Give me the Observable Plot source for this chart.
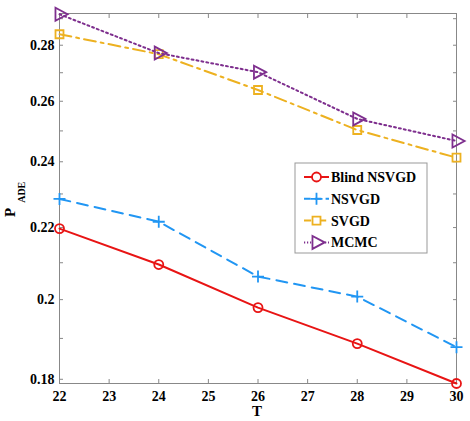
<!DOCTYPE html>
<html><head><meta charset="utf-8">
<script src="https://cdn.jsdelivr.net/npm/d3@7"></script>
<script src="https://cdn.jsdelivr.net/npm/@observablehq/plot@0.6"></script>
<style>body{margin:0;background:#fff;}</style>
</head><body><div id="chart"></div>
<script>
const T = [22, 24, 26, 28, 30];
const seriesNames = ["Blind NSVGD", "NSVGD", "SVGD", "MCMC"];
const blindNSVGD = [0.2197, 0.2095, 0.1979, 0.1887, 0.1790];
const nsvgd = [0.2285, 0.2217, 0.2062, 0.2008, 0.1878];
const svgd = [0.2841, 0.2767, 0.2639, 0.2503, 0.2413];
const mcmc = [0.2917, 0.2771, 0.2702, 0.2540, 0.2467];
const xTicks = [22, 23, 24, 25, 26, 27, 28, 29, 30];
const yTicks = [0.18, 0.2, 0.22, 0.24, 0.26, 0.28];
const yMinorTicks = [0.18, 0.19, 0.2, 0.21, 0.22, 0.23, 0.24, 0.25, 0.26, 0.27, 0.28, 0.29];

const colors = ["#e81414", "#2196f3", "#edb120", "#7e2f8e"];
const dashes = [null, "11,7", "12,5,3,5", "2,3"];
const triRight = {draw(ctx, size) { const r = Math.sqrt(size / Math.PI); ctx.moveTo(1.25 * r, 0); ctx.lineTo(-0.62 * r, -r); ctx.lineTo(-0.62 * r, r); ctx.closePath(); }};
const plusSym = {draw(ctx, size) { const r = Math.sqrt(size / Math.PI); ctx.moveTo(-r, 0); ctx.lineTo(r, 0); ctx.moveTo(0, -r); ctx.lineTo(0, r); }};
const symbols = ["circle", plusSym, "square", triRight];
const radii = [4.5, 6, 4.5, 6.5];
const seriesValues = [blindNSVGD, nsvgd, svgd, mcmc];

const gray = "#888";
const font = "Liberation Serif, Times New Roman, serif";

const marks = [
  Plot.frame({stroke: gray}),
  Plot.axisX(xTicks, {anchor: "bottom", tickSize: -4, stroke: gray, fill: "none", label: null}),
  Plot.axisX(xTicks, {anchor: "top", tickSize: -4, stroke: gray, fill: "none", label: null}),
  Plot.axisX(xTicks, {anchor: "bottom", tickSize: 0, tickPadding: 8, fill: "black", tickFormat: d => String(d), label: null}),
  Plot.axisY(yMinorTicks, {anchor: "left", tickSize: -4, stroke: gray, fill: "none", label: null}),
  Plot.axisY(yMinorTicks, {anchor: "right", tickSize: -4, stroke: gray, fill: "none", label: null}),
  Plot.axisY(yTicks, {anchor: "left", tickSize: 0, tickPadding: 5, fill: "black", tickFormat: d => String(d), label: null})
];
seriesValues.forEach((vals, i) => {
  const rows = T.map((t, j) => ({T: t, v: vals[j]}));
  marks.push(Plot.line(rows, {x: "T", y: "v", stroke: colors[i], strokeWidth: 2, strokeDasharray: dashes[i]}));
  marks.push(Plot.dot(rows, {x: "T", y: "v", stroke: colors[i], strokeWidth: 1.8, fill: "none", r: radii[i], symbol: symbols[i]}));
});

const chart = Plot.plot({
  width: 470, height: 421,
  marginLeft: 59, marginRight: 14, marginTop: 13, marginBottom: 38,
  style: {fontFamily: font, fontSize: "14px", fontWeight: "bold", background: "#fff", color: "black"},
  x: {domain: [22, 30]},
  y: {type: "log", domain: [0.179, 0.292]},
  marks
});
document.getElementById("chart").appendChild(chart);

const svg = d3.select(chart);
const yl = svg.append("text").attr("transform", "translate(15,217) rotate(-90)").attr("text-anchor", "start")
  .attr("font-family", font).attr("font-weight", "bold").attr("fill", "black");
yl.append("tspan").attr("font-size", 15).text("P");
yl.append("tspan").attr("font-size", 10).attr("dx", 5).attr("dy", 10).text("ADE");
svg.append("text").attr("x", 257).attr("y", 416).attr("text-anchor", "middle")
  .attr("font-family", font).attr("font-weight", "bold").attr("font-size", 15).attr("fill", "black").text("T");

const lg = svg.append("g");
lg.append("rect").attr("x", 295).attr("y", 163).attr("width", 132).attr("height", 90)
  .attr("fill", "white").attr("stroke", "#999").attr("stroke-width", 1);
const d3sym = s => s === "circle" ? d3.symbolCircle : s === "square" ? d3.symbolSquare : s;
seriesNames.forEach((name, i) => {
  const y = 177 + i * 21.8;
  lg.append("line").attr("x1", 304).attr("x2", 329).attr("y1", y).attr("y2", y)
    .attr("stroke", colors[i]).attr("stroke-width", 2).attr("stroke-dasharray", dashes[i] ? dashes[i].split(",").map(d => d * 0.6).join(",") : null);
  lg.append("path").attr("transform", `translate(316.5,${y})`)
    .attr("d", d3.symbol().type(d3sym(symbols[i])).size(Math.PI * radii[i] * radii[i])())
    .attr("fill", "white").attr("stroke", colors[i]).attr("stroke-width", 1.8);
  lg.append("text").attr("x", 331).attr("y", y).attr("dy", "0.35em").attr("text-anchor", "start")
    .attr("font-family", font).attr("font-weight", "bold").attr("font-size", 14).attr("fill", "black").text(name);
});
</script></body></html>
